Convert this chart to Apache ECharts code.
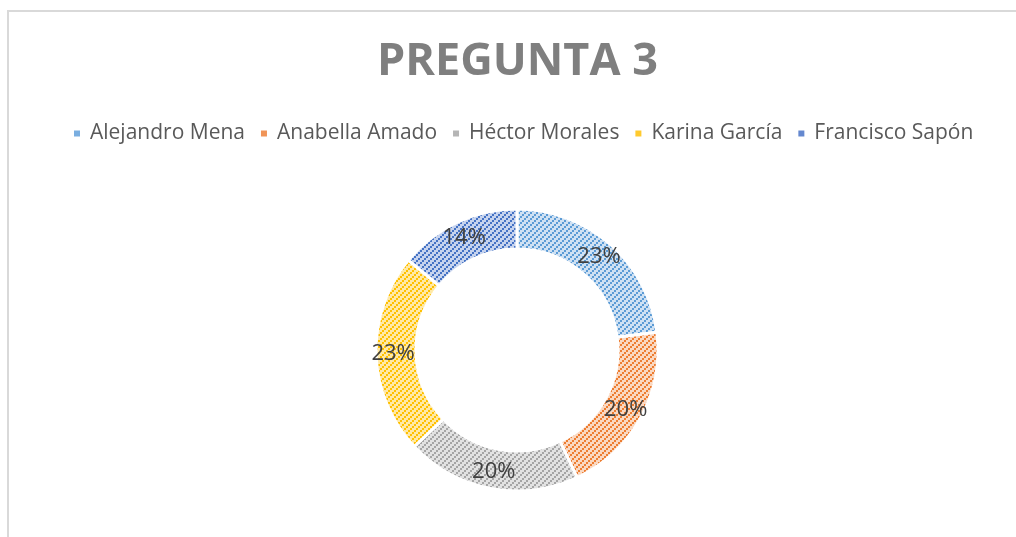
<!DOCTYPE html>
<html>
<head>
<meta charset="utf-8">
<script src="https://cdn.jsdelivr.net/npm/echarts@6/dist/echarts.min.js"></script>
<style>
  html, body { margin: 0; padding: 0; background: #fff; }
  #frame {
    position: absolute; left: 7px; top: 10px; width: 1040px; height: 560px;
    border: 2px solid #d9d9d9; box-sizing: border-box;
  }
  #chart { position: absolute; left: 0; top: 0; width: 1016px; height: 537px; }
</style>
</head>
<body>
<div id="frame"></div>
<div id="chart"></div>
<script>
  // data
  const names = ['Alejandro Mena', 'Anabella Amado', 'Héctor Morales', 'Karina García', 'Francisco Sapón']
  const values = [23, 20, 20, 23, 14]
  const chartTitle = 'PREGUNTA 3'

  const baseColors = ['#5b9bd5', '#ed7d31', '#a5a5a5', '#ffc000', '#4472c4']
  const lightColors = ['#cfe1f3', '#fad8c1', '#e2e2e2', '#ffe9a6', '#c6d3ee']
  const legendColors = ['#7aaee0', '#f09457', '#b5b5b5', '#ffca2e', '#6488cf']

  // hatch tile: light background, "/" staircase of 2x2 blocks
  function hatch(bg, fg) {
    const n = 6
    const c = document.createElement('canvas')
    c.width = n
    c.height = n
    const ctx = c.getContext('2d')
    ctx.fillStyle = bg
    ctx.fillRect(0, 0, n, n)
    ctx.fillStyle = fg
    for (let i = 0; i < n; i += 2) {
      ctx.fillRect(i, n - 2 - i, 2, 2)
    }
    return { image: c, repeat: 'repeat' }
  }

  const pieData = names.map((name, i) => ({
    name: name,
    value: values[i],
    itemStyle: { color: hatch(lightColors[i], baseColors[i]) }
  }))

  const legendData = names.map((name, i) => ({
    name: name,
    itemStyle: { color: legendColors[i] }
  }))

  const myChart = echarts.init(document.getElementById('chart'))
  myChart.setOption({
    animation: false,
    title: {
      text: chartTitle,
      left: 372,
      top: 35,
      textStyle: {
        fontFamily: 'Open Sans',
        fontSize: 45,
        fontWeight: 'bold',
        color: '#7f7f7f'
      }
    },
    legend: {
      top: 118,
      left: 67,
      icon: 'rect',
      itemWidth: 8,
      itemHeight: 8,
      itemGap: 14,
      textStyle: {
        fontFamily: 'Open Sans',
        fontSize: 21,
        color: '#595959',
        padding: [0, 0, 0, 4]
      },
      data: legendData
    },
    series: [{
      type: 'pie',
      center: [517, 350],
      radius: [101, 141],
      startAngle: 90,
      clockwise: true,
      itemStyle: {
        borderColor: '#fff',
        borderWidth: 3
      },
      label: {
        show: true,
        position: 'inside',
        formatter: p => Math.round(p.percent) + '%',
        fontFamily: 'Open Sans',
        fontSize: 22,
        color: '#404040'
      },
      labelLine: { show: false },
      emphasis: { disabled: true },
      data: pieData
    }]
  })
</script>
</body>
</html>
